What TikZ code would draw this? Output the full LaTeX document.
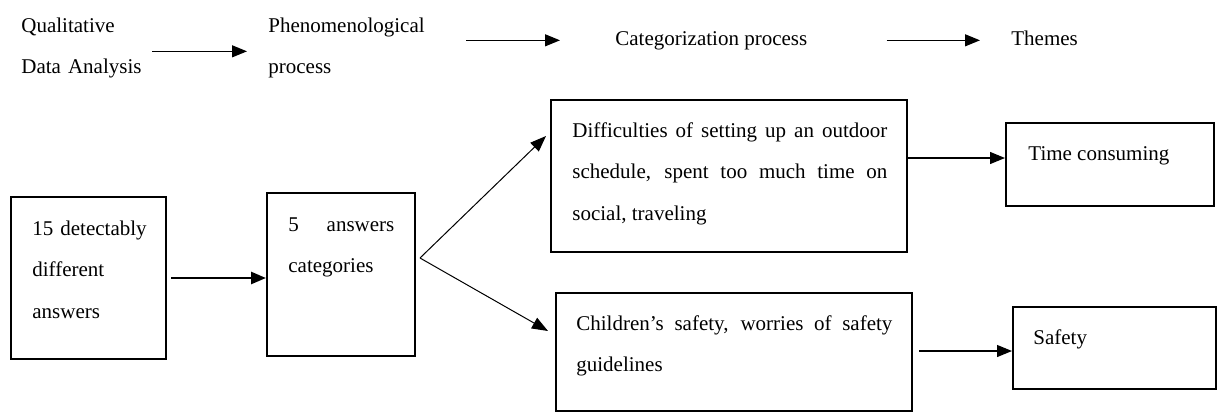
\documentclass[tikz,border=0pt]{standalone}
\usepackage{fontspec}
\setmainfont{Liberation Serif}
\usetikzlibrary{arrows.meta,positioning}
\hyphenpenalty=10000
\exhyphenpenalty=10000

\begin{document}
\begin{tikzpicture}[
x=0.5pt,y=-0.5pt,
font=\fontsize{10.5}{20.75}\selectfont,
box/.style={draw, line width=1pt, rectangle, inner sep=0pt},
txt/.style={inner sep=0pt, anchor=base west},
para/.style={txt, align=justify},
arr/.style={-{Triangle[length=7.5pt,width=6pt]}, line width=0.6pt},
heavy/.style={arr, line width=1.3pt},
fan/.style={-{Triangle[length=8pt,width=6pt]}, line width=0.5pt}
]
\useasboundingbox (0,0) rectangle (1222,413);
\node[txt, text width=66pt, align=left] (qda) at (21,32) {Qualitative\\Data Analysis};
\node[txt, text width=84pt, align=left] (phen) at (268,32) {Phenomenological\\process};
\node[txt] (catp) at (615,45) {Categorization process};
\node[txt] (thm) at (1011,45) {Themes};
\node[box, minimum width=77.5pt, minimum height=81pt] (ans) at (88.5,278) {};
\node[box, minimum width=74pt, minimum height=81.5pt] (cats) at (341,274.5) {};
\node[box, minimum width=178pt, minimum height=76pt] (diff) at (729,176) {};
\node[box, minimum width=178pt, minimum height=59pt] (kids) at (734,352) {};
\node[box, minimum width=104pt, minimum height=41.5pt] (time) at (1110,164.5) {};
\node[box, minimum width=101.5pt, minimum height=41pt] (safe) at (1114.5,348) {};
\node[txt, text width=64pt, align=left] (ansl) at (32,235) {15 detectably\\different\\answers};
\node[para, text width=53pt] (catsl) at (288,231) {5 answers\linebreak categories};
\node[para, text width=157.5pt] (diffl) at (572,137) {Difficulties of setting up an outdoor\linebreak schedule, spent too much time on\linebreak social, traveling};
\node[para, text width=158pt] (kidsl) at (576,330) {Children’s safety, worries of safety\linebreak guidelines};
\node[txt] (timel) at (1028,160) {Time consuming};
\node[txt] (safel) at (1033,344) {Safety};
\coordinate (fork) at ([xshift=2pt,yshift=8.25pt]cats.east);
\coordinate (timein) at ([yshift=3.25pt]time.west);
\coordinate (safein) at ([yshift=-1.5pt]safe.west);
\draw[arr] ([xshift=65.5pt,yshift=-1.8pt]qda.west) -- ([xshift=-10.5pt,yshift=-1.8pt]qda.west -| phen.west);
\draw[arr] ([xshift=99pt]catp.west -| phen.west) -- ([xshift=-27.5pt]catp.west);
\draw[arr] ([xshift=39.5pt]catp.east) -- ([xshift=-15.5pt]catp.east -| thm.west);
\draw[heavy] ([xshift=2pt]ans.east) -- (ans.east -| cats.west);
\draw[fan] (fork) -- ([xshift=-2pt,yshift=20pt]diff.west);
\draw[fan] (fork) -- ([xshift=-3.5pt,yshift=10.5pt]kids.west);
\draw[arr] (timein -| diff.east) -- (timein);
\draw[arr, shorten <=3pt] (safein -| kids.east) -- (safein);
\end{tikzpicture}
\end{document}
